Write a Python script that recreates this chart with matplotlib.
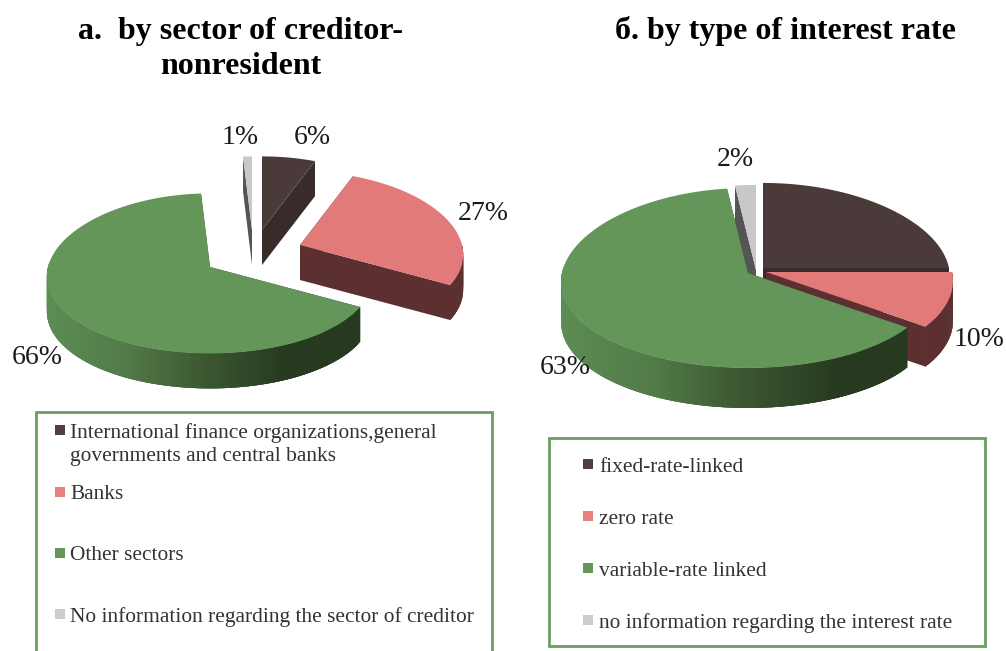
import numpy as np
import matplotlib
matplotlib.use("Agg")
import matplotlib.pyplot as plt
from matplotlib.colors import LinearSegmentedColormap
from matplotlib.patches import Polygon, Rectangle

plt.rcParams['font.family'] = ['Liberation Serif', 'DejaVu Serif']

# Data
sector_labels = ["International finance organizations,general\ngovernments and central banks",
                 "Banks", "Other sectors", "No information regarding the sector of creditor"]
sector_values = [6, 27, 66, 1]
rate_labels = ["fixed-rate-linked", "zero rate", "variable-rate linked",
               "no information regarding the interest rate"]
rate_values = [25, 10, 63, 2]
rate_shown = [False, True, True, True]   # the 25% label is missing in the original

top_colors = ["#4a3a39", "#e27a7a", "#64965a", "#c8c8c8"]
wall_colors = ["#382b2a", "#5c2f31", None, "#555555"]
legend_colors = ["#4f3f3d", "#e88080", "#64965a", "#cccccc"]
green_wall = LinearSegmentedColormap.from_list(
    "green_wall", ["#27391f", "#27391f", "#3a5630", "#527a48", "#5c8d53"])

fig = plt.figure(figsize=(10.06, 6.51), dpi=100)
ax = fig.add_axes([0, 0, 1, 1])
ax.set_xlim(0, 1006)
ax.set_ylim(651, 0)
ax.axis("off")

z = [2]


def rim(theta, rx, ry, kx, ky):
    # theta clockwise from 12 o'clock, front of the pie gets a bit bigger
    f = -np.cos(theta)
    return rx * np.sin(theta) * (1 + kx * f), ry * f * (1 + ky * f)


def draw_pie(values, apexes, order, rx, ry, kx, ky, depth):
    edges = np.radians(np.concatenate([[0], np.cumsum(values)]) * 3.6)
    for i in order:
        cx, cy = apexes[i]
        t = np.linspace(edges[i], edges[i + 1], 160)
        x, y = rim(t, rx, ry, kx, ky)
        x, y = x + cx, y + cy
        wall = wall_colors[i]
        edge_wall = wall if wall else green_wall(0.0)
        # cut faces
        for xe, ye in [(x[0], y[0]), (x[-1], y[-1])]:
            ax.add_patch(Polygon([(cx, cy), (xe, ye), (xe, ye + depth), (cx, cy + depth)],
                                 fc=edge_wall, ec="none", zorder=z[0]))
            z[0] += 1
        # outer wall, only the front part can be seen
        # each piece overlaps the next ones so no seams show
        for j in range(len(t) - 1):
            if -np.cos(t[j]) < -0.02:
                continue
            k = min(j + 4, len(t))
            if wall:
                c = wall
            else:
                c = green_wall(np.clip(1 - (x[j] - (cx - rx)) / (2 * rx), 0, 1))
            top = np.column_stack([x[j:k], y[j:k]])
            bottom = np.column_stack([x[j:k], y[j:k] + depth])[::-1]
            ax.add_patch(Polygon(np.vstack([top, bottom]), fc=c, ec="none", zorder=z[0]))
            z[0] += 1
        # top face
        ax.add_patch(Polygon(np.column_stack([np.r_[cx, x], np.r_[cy, y]]),
                             fc=top_colors[i], ec="none", zorder=z[0]))
        z[0] += 1


# a. by sector
ax.text(241, 32, "a.  by sector of creditor-", fontsize=23, fontweight="bold",
        ha="center", va="center", color="black")
ax.text(241, 66, "nonresident", fontsize=23, fontweight="bold",
        ha="center", va="center", color="black")
draw_pie(sector_values, [(262, 230), (300, 245), (210, 267), (252, 230)],
         [3, 0, 1, 2], 162, 80, 0.12, 0.08, 35)
sector_pos = [(312, 138), (483, 213), (37, 357), (240, 138)]
for v, (px, py) in zip(sector_values, sector_pos):
    ax.text(px, py, f"{v}%", fontsize=20, ha="center", va="center",
            color="#1a1a1a", zorder=2000)

# б. by type
ax.text(785, 31, "б. by type of interest rate", fontsize=23, fontweight="bold",
        ha="center", va="center", color="black")
draw_pie(rate_values, [(763, 268), (766, 272), (748, 273), (756, 270)],
         [3, 0, 1, 2], 186, 90, 0.10, 0.055, 40)
rate_pos = [(0, 0), (979, 340), (565, 367), (735, 159)]
for v, show, (px, py) in zip(rate_values, rate_shown, rate_pos):
    if show:
        ax.text(px, py, f"{v}%", fontsize=20, ha="center", va="center",
                color="#1a1a1a", zorder=2000)

# legend boxes
box_color = "#6a9e5f"
ax.add_patch(Rectangle((36, 412), 456, 245, fc="white", ec=box_color, lw=2, zorder=3000))
ax.add_patch(Rectangle((549, 438), 436, 208, fc="white", ec=box_color, lw=2, zorder=3000))

sector_y = [430, 492, 553, 614]
for lab, c, yy in zip(sector_labels, legend_colors, sector_y):
    ax.add_patch(Rectangle((55, yy - 5), 10, 10, fc=c, ec="none", zorder=3001))
    ax.text(70, yy - 7, lab, fontsize=15.4, ha="left", va="top", color="#333333",
            linespacing=1.3, zorder=3001)

rate_y = [464, 516, 568, 620]
for lab, c, yy in zip(rate_labels, legend_colors, rate_y):
    ax.add_patch(Rectangle((583, yy - 5), 10, 10, fc=c, ec="none", zorder=3001))
    ax.text(599, yy + 3, lab, fontsize=15.4, ha="left", va="center", color="#333333", zorder=3001)

plt.savefig("out.png", dpi=100)
